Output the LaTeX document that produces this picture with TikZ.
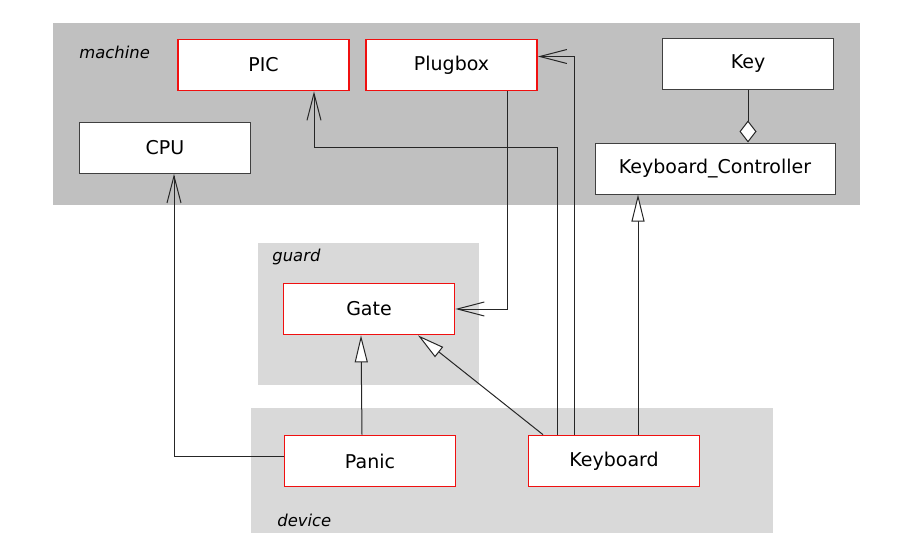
\documentclass[tikz,border=0pt]{standalone}
\usepackage{fontspec}
\setmainfont{DejaVu Sans}
\usetikzlibrary{
    arrows.meta,
    positioning
}
\definecolor{machinegray}{HTML}{C0C0C0}
\definecolor{pkggray}{HTML}{D9D9D9}
\definecolor{boxred}{HTML}{F01010}
\tikzset{
    region/.style={fill=#1, draw=none},
    regionlabel/.style={anchor=west, inner sep=0pt, font=\fontsize{8.2}{10}\selectfont\itshape},
    umlclass/.style={draw=black!75, line width=0.5pt, fill=white,
        minimum width=85.5pt, minimum height=25.5pt, inner sep=0pt,
        font=\fontsize{9.5}{11}\selectfont},
    active/.style={umlclass, draw=boxred, line width=0.85pt},
    assoc/.style={-{Straight Barb[length=13.5pt, width=7pt]}, line width=0.5pt, black!85},
    inherit/.style={-{Triangle[open, length=13.5pt, width=6.5pt, fill=white]}, line width=0.5pt, black!85},
    aggr/.style={-{Diamond[open, length=11pt, width=8.5pt, fill=white]}, line width=0.5pt, black!85}
}

\begin{document}
\begin{tikzpicture}[x=0.5pt, y=-0.5pt]
    \useasboundingbox (0,0) rectangle (900,546);
    % packages
    \fill[region=machinegray] (53,23) rectangle (860,205);
    \fill[region=pkggray] (258,243) rectangle (479,385);
    \fill[region=pkggray] (251,408) rectangle (773,533);
    \node[regionlabel] (machinelab) at (79,52) {machine};
    \node[regionlabel] (guardlab) at (272,257) {guard};
    \node[regionlabel] (devicelab) at (277,520) {device};

    % classes
    \node[active] (pic) at (263.5,65) {PIC};
    \node[active] (plugbox) at (451.5,65) {Plugbox};
    \node[umlclass] (key) at (748,63.5) {Key};
    \node[umlclass] (cpu) at (165,148) {CPU};
    \node[umlclass, minimum width=120pt] (kbc) at (715,168.5) {Keyboard\_Controller};
    \node[active] (gate) at (369,309) {Gate};
    \node[active] (panic) at (370,461) {Panic};
    \node[active] (keyboard) at (614,461) {Keyboard};

    % relations
    \coordinate (picbend) at (314,147);
    \draw[assoc] ([yshift=2.5pt]panic.west) -| ([xshift=4.5pt]cpu.south);
    \draw[inherit] ([xshift=-4pt]panic.north) -- ([xshift=-4pt]gate.south);
    \draw[inherit] ([xshift=-35.5pt]keyboard.north) -- ([xshift=24.5pt]gate.south);
    \draw[assoc] ([xshift=-28.5pt]keyboard.north) |- (picbend) -- (picbend |- pic.south);
    \draw[assoc] ([xshift=-20pt]keyboard.north) |- ([yshift=4.25pt]plugbox.east);
    \draw[assoc] ([xshift=28pt]plugbox.south) |- (gate.east);
    \draw[inherit] ([xshift=12pt]keyboard.north) -- ([xshift=12pt]keyboard.north |- kbc.south);
    \draw[aggr] (key.south) -- (key.south |- kbc.north);
\end{tikzpicture}
\end{document}
